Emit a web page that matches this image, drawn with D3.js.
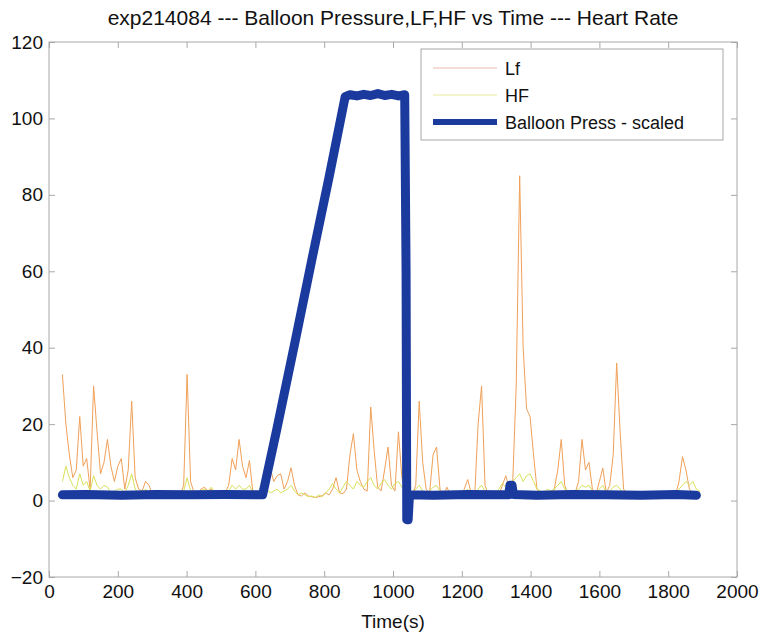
<!DOCTYPE html>
<html>
<head>
<meta charset="utf-8">
<script src="https://cdn.jsdelivr.net/npm/d3@7"></script>
<style>
  html, body { margin: 0; padding: 0; background: #fff; }
  svg { display: block; font-family: "Liberation Sans", Arial, Helvetica, sans-serif; }
</style>
</head>
<body>
<svg id="chart" width="760" height="635"></svg>
<script>
// Spectral power samples (uniform grid, seconds)
const sampleStart = 39;
const sampleStep = 10.07;

const lfValues = [
  33, 20, 12, 6, 8, 22, 9, 11, 3, 30,
  18, 7, 10, 16, 9, 5, 9, 11, 3, 8,
  26, 6, 3, 2.5, 5, 4, 1.5, 1.2, 1, 1.5,
  1.2, 2, 2, 1, 1.5, 4, 33, 5, 2, 1.5,
  3, 3.5, 2.5, 3, 2, 1.5, 1.5, 2, 4, 11,
  8, 16, 9, 6, 10.5, 2, 1.5, 2, 3, 7.5,
  8.5, 5, 6.5, 7, 3, 5, 8.6, 4, 1.5, 1.2,
  2, 1.2, 1, 0.8, 1, 1.3, 2, 1.5, 3, 6,
  2, 1.8, 3, 12, 17.5, 8, 5, 3, 2.5, 24.5,
  13, 3.5, 2.5, 8, 14, 4, 2.5, 18, 6, 3,
  2, 1.5, 4, 26, 10, 3, 2, 12, 14, 3,
  1.5, 3.5, 1.5, 1, 1, 1.2, 3, 5.5, 2, 1,
  20, 30, 4, 1.5, 1.5, 1.2, 1.5, 4, 6.5, 3,
  5, 30, 85, 40, 24, 22, 12, 3, 1.5, 1.2,
  2, 1.5, 3, 8, 16, 4, 1.5, 1.2, 2, 5,
  16, 8, 10, 3, 1.5, 5, 8.5, 2, 4, 12,
  36, 18, 3, 1.5, 1, 1.2, 1, 1.2, 1, 0.8,
  1.2, 0.6, 0.5, 0.8, 1, 1.2, 1, 1.5, 5, 11.5,
  8, 3, 2, 1.5, 2.5
];

const hfValues = [
  5, 9, 6, 4, 3, 7, 4, 5, 2.5, 6.5,
  4, 3, 4, 3.5, 2, 2.5, 3, 3, 2, 4,
  7, 3, 2, 1.5, 3, 2, 1.5, 1, 1.5, 1,
  1.2, 2, 1.5, 1, 1.5, 2.5, 6, 2.5, 1.5, 2,
  2.5, 3, 2.5, 3.5, 2, 1.5, 1.5, 2, 2.5, 4,
  3, 4, 3, 3, 4, 2, 1.5, 2, 1.5, 3,
  2, 2.5, 3, 2, 2.5, 3, 4, 2.5, 1.5, 2,
  1.5, 1, 1.2, 0.8, 1.5, 1, 2, 3, 4.5, 3,
  2, 3.5, 5, 4, 3, 5, 4, 3.5, 5, 6,
  4, 3, 4.5, 5.5, 4, 3, 4.5, 5, 3.5, 2.5,
  2, 2, 3, 4, 2.5, 2, 2.5, 3.5, 4, 2.5,
  1.5, 2.5, 2, 1.5, 1, 1.2, 2, 3, 2, 1.5,
  3, 4, 2.5, 2, 1.5, 2, 3, 4.5, 3.5, 3,
  5, 6, 7, 5, 6.5, 7, 5, 3, 2.5, 2,
  3, 2.5, 3, 4, 5, 3, 2.5, 2, 2.5, 3,
  4, 3.5, 4, 2.5, 2, 3, 4, 2, 2.5, 3.5,
  4, 3, 2, 1.5, 2, 1.5, 1, 1.5, 1.2, 1,
  1.5, 1, 0.8, 1, 1.2, 1.5, 1.2, 2, 3, 4,
  5, 4, 5, 3, 2.5
];

// Balloon pressure (scaled), breakpoints of the recorded trace
const pressTime = [39, 109, 210, 311, 412, 512, 621, 663, 714, 764, 815, 861,
  875, 895, 915, 935, 956, 976, 996, 1016, 1034, 1038, 1040, 1044, 1048,
  1117, 1217, 1318, 1336, 1340, 1346, 1350, 1419, 1520, 1620, 1721, 1822, 1882];
const pressValues = [1.5, 1.6, 1.4, 1.6, 1.5, 1.6, 1.5, 19, 41, 63, 85, 105.7,
  106.2, 105.9, 106.3, 106.0, 106.5, 106.0, 106.3, 105.9, 106.2, 60, -5, -5, 1.5,
  1.4, 1.6, 1.5, 1.5, 4, 4, 1.6, 1.4, 1.6, 1.5, 1.4, 1.6, 1.4];

const xTicks = [0, 200, 400, 600, 800, 1000, 1200, 1400, 1600, 1800, 2000];
const yTicks = [-20, 0, 20, 40, 60, 80, 100, 120];

const titleText = "exp214084 --- Balloon Pressure,LF,HF vs Time --- Heart Rate";
const xLabel = "Time(s)";
const legendLabels = ["Lf", "HF", "Balloon Press - scaled"];

const lfColor = "#f0a058";
const hfColor = "#d8e158";
const pressColor = "#1b3a9e";
const axisColor = "#a8a8a8";

const svg = d3.select("#chart");
const plotLeft = 49, plotRight = 737, plotTop = 42, plotBottom = 577;

const x = d3.scaleLinear().domain([0, 2000]).range([plotLeft, plotRight]);
const y = d3.scaleLinear().domain([-20, 120]).range([plotBottom, plotTop]);

const lfData = lfValues.map((v, i) => [sampleStart + i * sampleStep, v]);
const hfData = hfValues.map((v, i) => [sampleStart + i * sampleStep, v]);
const pressData = pressTime.map((t, i) => [t, pressValues[i]]);

const line = d3.line().x(d => x(d[0])).y(d => y(d[1]));

// Plot box
svg.append("rect")
  .attr("x", plotLeft).attr("y", plotTop)
  .attr("width", plotRight - plotLeft).attr("height", plotBottom - plotTop)
  .attr("fill", "#fff").attr("stroke", axisColor).attr("stroke-width", 1);

// Axes with inward ticks on all four sides
const tickLen = 6;
const fmt = d3.format("d");
const axisStyle = g => {
  g.select(".domain").remove();
  g.selectAll(".tick line").attr("stroke", axisColor);
  g.selectAll(".tick text").attr("fill", "#111").attr("font-size", 19)
    .attr("font-family", "Liberation Sans, Arial, sans-serif");
};

svg.append("g").attr("transform", `translate(0,${plotBottom})`)
  .call(d3.axisBottom(x).tickValues(xTicks).tickFormat(fmt).tickSizeInner(-tickLen).tickSizeOuter(0).tickPadding(8))
  .call(axisStyle);
svg.append("g").attr("transform", `translate(0,${plotTop})`)
  .call(d3.axisTop(x).tickValues(xTicks).tickSizeInner(-tickLen).tickSizeOuter(0).tickFormat(""))
  .call(axisStyle);
svg.append("g").attr("transform", `translate(${plotLeft},0)`)
  .call(d3.axisLeft(y).tickValues(yTicks).tickFormat(fmt).tickSizeInner(-tickLen).tickSizeOuter(0).tickPadding(6))
  .call(axisStyle);
svg.append("g").attr("transform", `translate(${plotRight},0)`)
  .call(d3.axisRight(y).tickValues(yTicks).tickSizeInner(-tickLen).tickSizeOuter(0).tickFormat(""))
  .call(axisStyle);

// Series
const plot = svg.append("g");
plot.append("path").datum(lfData).attr("d", line)
  .attr("fill", "none").attr("stroke", lfColor).attr("stroke-width", 1);
plot.append("path").datum(hfData).attr("d", line)
  .attr("fill", "none").attr("stroke", hfColor).attr("stroke-width", 1);
plot.append("path").datum(pressData).attr("d", line)
  .attr("fill", "none").attr("stroke", pressColor).attr("stroke-width", 9)
  .attr("stroke-linejoin", "round").attr("stroke-linecap", "round");

// Title and axis label
svg.append("text").attr("x", (plotLeft + plotRight) / 2).attr("y", 25)
  .attr("text-anchor", "middle").attr("font-size", 21).attr("fill", "#111")
  .text(titleText);
svg.append("text").attr("x", (plotLeft + plotRight) / 2).attr("y", 628)
  .attr("text-anchor", "middle").attr("font-size", 19).attr("fill", "#111")
  .text(xLabel);

// Legend
const legend = svg.append("g");
legend.append("rect").attr("x", 421).attr("y", 49).attr("width", 302).attr("height", 91)
  .attr("fill", "#fff").attr("stroke", axisColor).attr("stroke-width", 1);
const legendColors = ["#eab8a8", "#e6ea9a", pressColor];
const legendWidths = [1, 1, 6];
legendLabels.forEach((label, i) => {
  const ly = 68 + i * 27;
  legend.append("line").attr("x1", 433).attr("x2", 497).attr("y1", ly).attr("y2", ly)
    .attr("stroke", legendColors[i]).attr("stroke-width", legendWidths[i]);
  legend.append("text").attr("x", 505).attr("y", ly + 6.5)
    .attr("font-size", 18).attr("fill", "#111").text(label);
});
</script>
</body>
</html>
